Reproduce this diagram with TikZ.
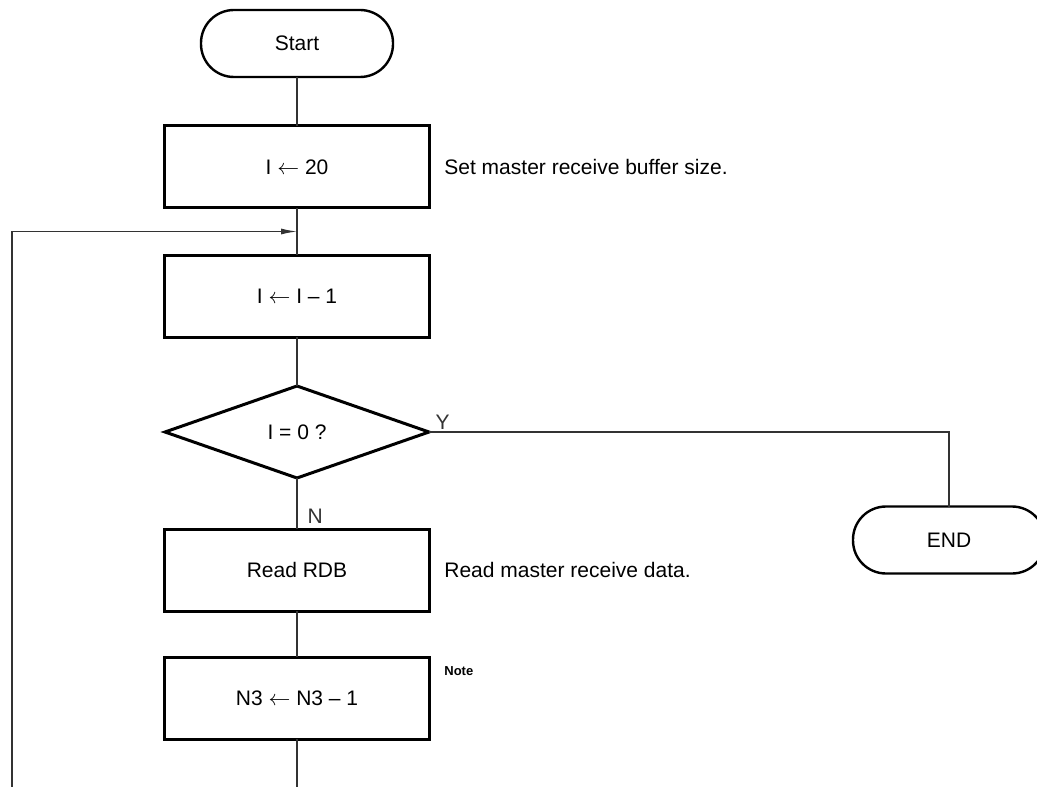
\documentclass[tikz,border=0pt]{standalone}
\usepackage{fontspec}
\setmainfont{Liberation Sans}
\usetikzlibrary{positioning, arrows.meta, shapes.geometric, calc}

\begin{document}
\begin{tikzpicture}[
    node distance=24pt,
    >={Latex[length=8pt, width=3pt]},
    % --- estilos ---
    base/.style={draw, outer sep=0pt, inner sep=2pt, align=center,
                 font=\fontsize{10.5pt}{12pt}\selectfont},
    terminal/.style={base, rectangle, rounded corners=16.5pt, line width=1.2pt,
                     minimum width=96pt, minimum height=33.5pt},
    process/.style={base, rectangle, line width=1.5pt,
                    minimum width=132pt, minimum height=41pt},
    decision/.style={base, diamond, line width=1.5pt,
                     minimum width=132pt, minimum height=46pt},
    line/.style={draw, black!80, line width=0.6pt},
    comment/.style={font=\fontsize{10.5pt}{12pt}\selectfont, inner sep=0pt, anchor=west},
    branch/.style={font=\fontsize{10.5pt}{12pt}\selectfont, inner sep=2pt}
]
\useasboundingbox (-148.5pt, 21.75pt) rectangle (370pt, -371.25pt);

% ====== bloque principal ======
\node[terminal] (start) {Start};
\node[process] (init) [below=24.5pt of start] {I $\leftarrow$ 20};
\node[process] (dec1) [below=23.5pt of init] {I $\leftarrow$ I -- 1};
\node[decision] (test) [below=24.5pt of dec1] {I = 0 ?};
\node[process] (rdb) [below=25.5pt of test] {Read RDB};
\node[process] (dec3) [below=23pt of rdb] {N3 $\leftarrow$ N3 -- 1};

\node[terminal, anchor=west] (stop) at ([xshift=212pt, yshift=-54pt]test.east) {END};

% comentarios
\node[comment] (cinit) [right=7.5pt of init] {Set master receive buffer size.};
\node[comment] (crdb) [right=7.5pt of rdb] {Read master receive data.};
\node[anchor=west, font=\fontsize{6.5pt}{8pt}\selectfont\bfseries, inner sep=0pt]
    (note) at ([xshift=7.5pt, yshift=-7pt]dec3.north east) {Note};

% --- conexiones ---
\coordinate (join) at ($(init.south)!0.5!(dec1.north)$);
\coordinate (cut) at ([yshift=-26pt]dec3.south);
\coordinate (back) at ([xshift=-142.5pt]cut);

\path[line] (start) -- (init);
\path[line] (init) -- (dec1);
\path[line] (dec1) -- (test);
\path[line] (test) -- (rdb) node[branch, pos=0.76, right=3pt] {N};
\path[line] (rdb) -- (dec3);
\path[line] (dec3) -- (cut);
\path[line] (test.east) -| (stop.north)
    node[branch, pos=0, above right=-1pt and 1pt] {Y};

% lazo de retorno
\path[line, ->] (back) |- (join);

\end{tikzpicture}
\end{document}
